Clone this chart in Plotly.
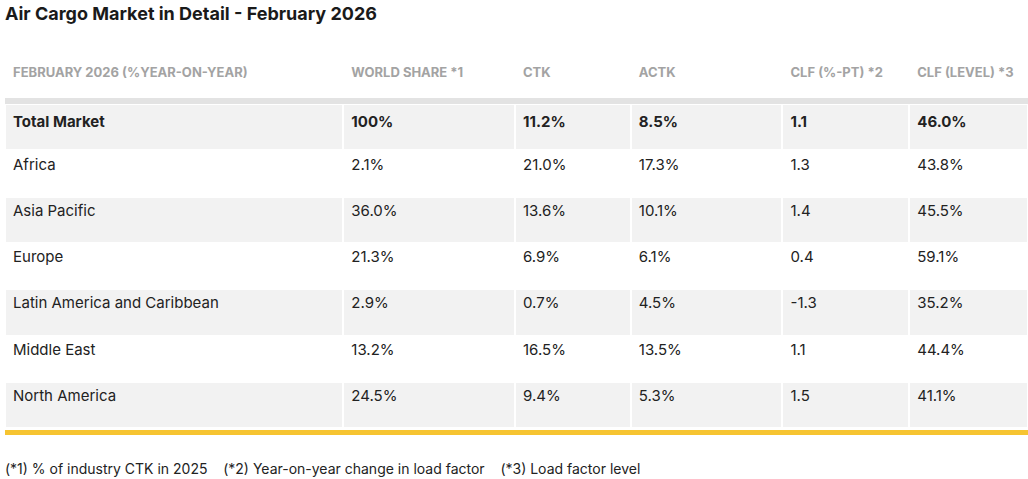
import plotly.graph_objects as go

headers = ["FEBRUARY 2026 (%YEAR-ON-YEAR)", "WORLD SHARE *1", "CTK", "ACTK", "CLF (%-PT) *2", "CLF (LEVEL) *3"]
regions = ["Total Market", "Africa", "Asia Pacific", "Europe", "Latin America and Caribbean", "Middle East", "North America"]
world_share = ["100%", "2.1%", "36.0%", "21.3%", "2.9%", "13.2%", "24.5%"]
ctk = ["11.2%", "21.0%", "13.6%", "6.9%", "0.7%", "16.5%", "9.4%"]
actk = ["8.5%", "17.3%", "10.1%", "6.1%", "4.5%", "13.5%", "5.3%"]
clf_pt = ["1.1", "1.3", "1.4", "0.4", "-1.3", "1.1", "1.5"]
clf_level = ["46.0%", "43.8%", "45.5%", "59.1%", "35.2%", "44.4%", "41.1%"]

W, H = 1028, 479


def px(x):
    return x / W


def py(y):
    return 1 - y / H


cols = [regions, world_share, ctk, actk, clf_pt, clf_level]
cells = [[("<b>%s</b>" % v) if i == 0 else v for i, v in enumerate(c)] for c in cols]
fills = ["#f2f2f2" if i % 2 == 0 else "#ffffff" for i in range(len(regions))]

fig = go.Figure(go.Table(
    domain=dict(x=[px(5), 1], y=[0, py(56)]),
    columnwidth=[339, 172, 116, 152, 127, 119],
    header=dict(values=["<b>%s</b>" % h for h in headers], fill_color="white", line=dict(color="white", width=0),
                font=dict(family="Inter", size=13, color="#a3a3a3"), align="left", height=48),
    cells=dict(values=cells, fill_color=[fills] * 6,
               line=dict(color="white", width=2),
               font=dict(family="Inter", size=15, color="#222222"), align="left", height=46.3),
))
fig.add_shape(type="rect", xref="paper", yref="paper", x0=px(5), x1=1, y0=py(104), y1=py(98),
              fillcolor="#e3e3e3", line_width=0, layer="above")
fig.add_shape(type="rect", xref="paper", yref="paper", x0=px(5), x1=1, y0=py(435), y1=py(430),
              fillcolor="#f6c431", line_width=0, layer="above")
fig.add_annotation(text="<b>Air Cargo Market in Detail - February 2026</b>", xref="paper", yref="paper",
                   x=px(3), y=py(1), xanchor="left", yanchor="top", showarrow=False,
                   font=dict(family="Inter", size=18, color="#1a1a1a"))
fig.add_annotation(text="(*1) % of industry CTK in 2025    (*2) Year-on-year change in load factor    (*3) Load factor level",
                   xref="paper", yref="paper", x=px(3), y=py(468), xanchor="left", yanchor="middle",
                   showarrow=False, font=dict(family="Inter", size=14, color="#222222"))
fig.update_layout(width=W, height=H, margin=dict(l=0, r=0, t=0, b=0), paper_bgcolor="white")
fig.write_html("out.html", config={"displayModeBar": False},
               post_script="document.body.style.margin='0';document.body.style.overflow='hidden';")
